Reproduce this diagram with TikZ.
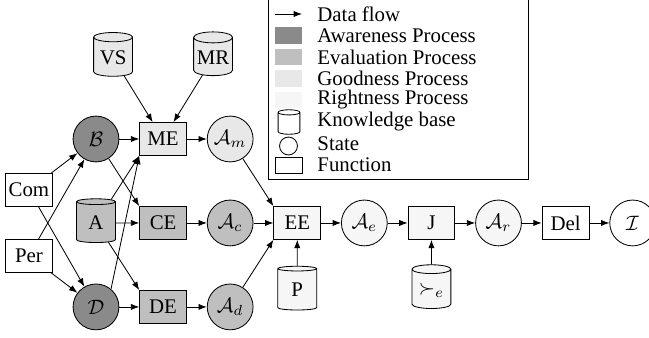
\documentclass[tikz,border=0pt]{standalone}
\usepackage{fontspec}
\setmainfont{Liberation Serif}
\usepackage{amsmath}
\usepackage{amssymb}
\usetikzlibrary{positioning}
\usetikzlibrary{shapes.geometric}
\usetikzlibrary{arrows.meta}
\definecolor{aware}{gray}{0.54}
\definecolor{evalu}{gray}{0.75}
\definecolor{good}{gray}{0.91}
\definecolor{rightc}{gray}{0.965}

\begin{document}
\begin{tikzpicture}[x=0.48pt, y=-0.48pt, node distance=32.2pt, on grid,
    fn/.style={draw, rectangle, minimum width=22.5pt, minimum height=15.8pt, inner sep=1pt},
    st/.style={draw, circle, minimum size=22pt, inner sep=0pt},
    kb/.style={draw, cylinder, shape border rotate=90, aspect=0.3, minimum width=18.7pt, minimum height=21pt, inner sep=1pt},
    flow/.style={-{Latex[length=4pt, width=3pt]}},
    key/.style={minimum width=13pt, minimum height=7.7pt, inner sep=0pt},
    keytext/.style={anchor=west, inner sep=0pt}]
    \useasboundingbox (0,0) rectangle (649,338);
    
    \node[st, fill=aware] (B) at (96,139) {$\mathcal{B}$};
    \node[kb, fill=evalu, below=40.3pt of B] (A) {A};
    \node[st, fill=aware, below=40.3pt of A] (D) {$\mathcal{D}$};
    \node[fn, above left=15.8pt and 32.2pt of A] (com) {Com};
    \node[fn, below left=15.8pt and 32.2pt of A] (per) {Per};
    
    \node[fn, fill=good, right=of B] (me) {ME};
    \node[fn, fill=evalu, right=of A] (ce) {CE};
    \node[fn, fill=evalu, right=of D] (de) {DE};
    \node[kb, fill=good, above left=38.9pt and 24pt of me] (vs) {VS};
    \node[kb, fill=good, above right=38.9pt and 24pt of me] (mr) {MR};
    
    \node[st, fill=good, right=of me] (am) {$\mathcal{A}_m$};
    \node[st, fill=evalu, right=of ce] (ac) {$\mathcal{A}_c$};
    \node[st, fill=evalu, right=of de] (ad) {$\mathcal{A}_d$};
    
    \node[fn, fill=rightc, right=of ac] (ee) {EE};
    \node[kb, fill=rightc, below=of ee] (p) {P};
    \node[st, fill=rightc, right=of ee] (ae) {$\mathcal{A}_e$};
    \node[fn, fill=rightc, right=of ae] (j) {J};
    \node[kb, fill=rightc, below=of j] (pref) {$\succ_e$};
    \node[st, fill=rightc, right=of j] (ar) {$\mathcal{A}_r$};
    \node[fn, right=of ar] (del) {Del};
    \node[st, right=of del] (int) {$\mathcal{I}$};
    
    \draw[flow] (com) -- (B);
    \draw[flow] (com) -- (D);
    \draw[flow] (per) -- (B);
    \draw[flow] (per) -- (D);
    \draw[flow] (A) -- (me.south west);
    \draw[flow] (D.50) -- (me.south west);
    \draw[flow] (B) -- (ce.north west);
    \draw[flow] (A) -- (de.north west);
    \draw[flow] (B) -- (me);
    \draw[flow] (A) -- (ce);
    \draw[flow] (D) -- (de);
    \draw[flow] (vs) -- (me);
    \draw[flow] (mr) -- (me);
    
    \draw[flow] (me) -- (am);
    \draw[flow] (ce) -- (ac);
    \draw[flow] (de) -- (ad);
    \draw[flow] (am) -- (ee.north west);
    \draw[flow] (ac) -- (ee);
    \draw[flow] (ad) -- (ee.south west);
    \draw[flow] (p) -- (ee);
    \draw[flow] (ee) -- (ae);
    \draw[flow] (ae) -- (j);
    \draw[flow] (pref) -- (j);
    \draw[flow] (j) -- (ar);
    \draw[flow] (ar) -- (del);
    \draw[flow] (del) -- (int);
    
    % legend
    \draw (268,-5) rectangle (528,179);
    \coordinate (flowa) at (275,14);
    \coordinate (flowb) at (302,14);
    \draw[flow] (flowa) -- (flowb);
    \node[key, fill=aware] (kaw) at (288.5,35.5) {};
    \node[key, fill=evalu] (kev) at (288.5,57) {};
    \node[key, fill=good] (kgo) at (288.5,78.5) {};
    \node[key, fill=rightc] (kri) at (288.5,100) {};
    \node[kb, scale=0.56, transform shape] (kkb) at (289,124) {\phantom{VS}};
    \node[draw, circle, minimum size=8.6pt, inner sep=0pt] (kst) at (288.5,146) {};
    \node[key, draw] (kfn) at (288.5,165) {};
    
    \node[keytext] (tflow) at (317,14) {Data flow};
    \node[keytext] (taw) at (317,35.5) {Awareness Process};
    \node[keytext] (tev) at (317,57) {Evaluation Process};
    \node[keytext] (tgo) at (317,78.5) {Goodness Process};
    \node[keytext] (tri) at (317,100) {Rightness Process};
    \node[keytext] (tkb) at (317,122) {Knowledge base};
    \node[keytext] (tst) at (317,143.5) {State};
    \node[keytext] (tfn) at (317,165) {Function};
\end{tikzpicture}
\end{document}
